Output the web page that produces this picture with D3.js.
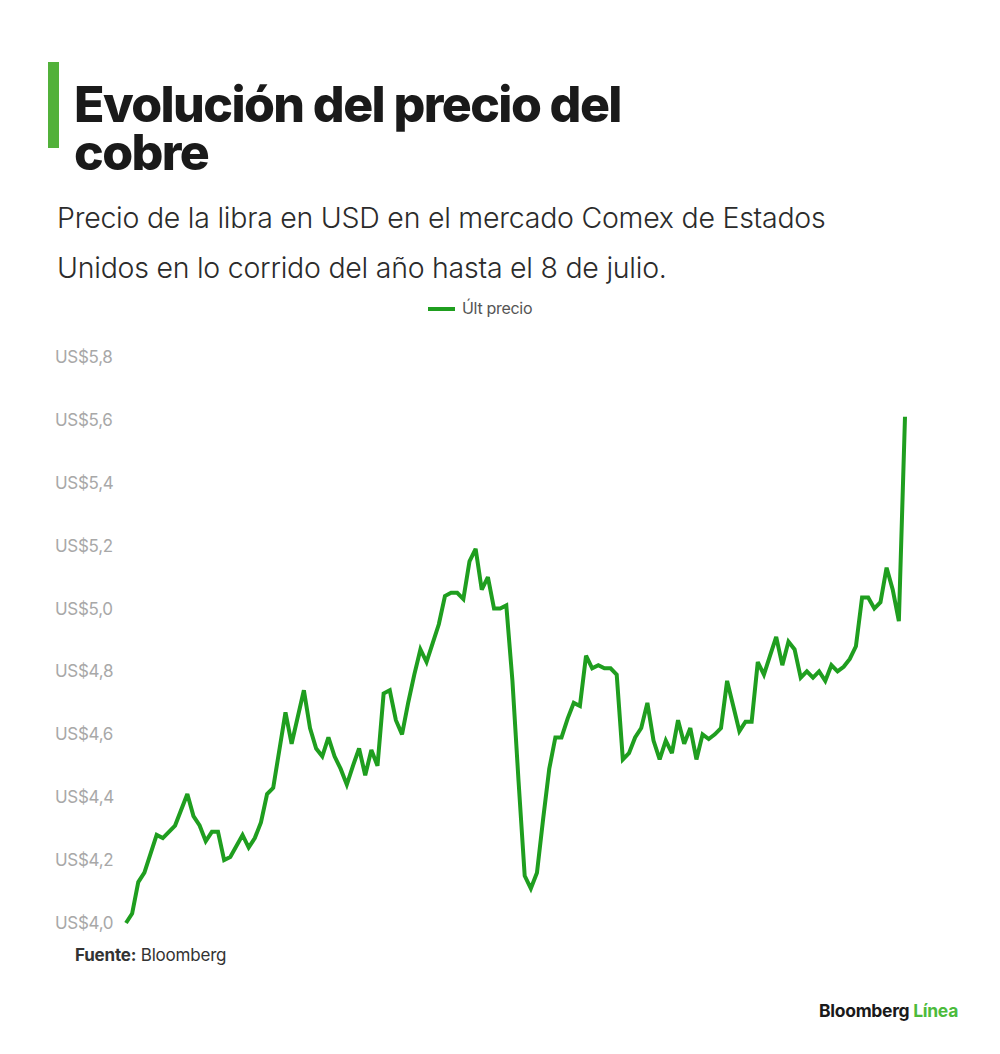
<!DOCTYPE html>
<html>
<head>
<meta charset="utf-8">
<script src="https://cdn.jsdelivr.net/npm/d3@7"></script>
<style>
  body { margin: 0; background: #fff; }
  svg { display: block; }
  .title { font-family: Inter, 'Noto Sans', sans-serif; font-weight: 800; font-size: 50px; fill: #1a1a1a; letter-spacing: -1.6px; }
  .subtitle { font-family: Inter, 'Noto Sans', sans-serif; font-weight: 300; font-size: 28.5px; fill: #2b2b2b; letter-spacing: -0.25px; }
  .legend-label { font-family: Inter, 'Noto Sans', sans-serif; font-size: 16px; fill: #555; letter-spacing: -0.3px; }
  .y.axis text { font-family: Inter, 'Noto Sans', sans-serif; font-size: 17px; fill: #a8a8a8; letter-spacing: -0.3px; }
  .source { font-family: Inter, 'Noto Sans', sans-serif; font-size: 17px; fill: #333; letter-spacing: -0.2px; }
  .brand { font-family: Inter, 'Noto Sans', sans-serif; font-weight: 700; font-size: 17.5px; fill: #1a1a1a; letter-spacing: -0.3px; }
</style>
</head>
<body>
<svg width="1000" height="1054"></svg>
<script>
// trading day index (0 = 2 de enero) and last price, USD per pound
var days = [0, 1, 2, 3, 5, 6, 7, 8, 10, 11, 12, 13, 14, 15, 16, 17, 19, 20, 21, 22,
  23, 24, 26, 27, 29, 30, 31, 32, 33, 34, 35, 36, 37, 38, 39, 40, 41, 42, 43, 44,
  45, 46, 47, 48, 49, 50, 51, 52, 53, 54, 55, 56, 57, 58, 59, 60, 61, 62, 63, 64,
  65, 66, 67, 68, 69, 70, 71, 72, 73, 74, 75, 76, 77, 78, 79, 80, 81, 82, 83, 84,
  85, 86, 87, 88, 89, 90, 91, 92, 93, 94, 95, 96, 97, 98, 99, 100, 101, 102, 103, 104,
  105, 106, 107, 108, 109, 110, 111, 112, 113, 114, 115, 116, 117, 118, 119, 120, 121, 122, 123, 124,
  125, 126, 127];
var prices = [4.00, 4.03, 4.13, 4.16, 4.28, 4.27, 4.29, 4.31, 4.41, 4.34, 4.31, 4.26, 4.29, 4.29, 4.20, 4.21, 4.28, 4.24, 4.27, 4.32,
  4.41, 4.43, 4.67, 4.57, 4.74, 4.62, 4.555, 4.53, 4.59, 4.53, 4.49, 4.44, 4.50, 4.555, 4.47, 4.55, 4.50, 4.73, 4.74, 4.645,
  4.60, 4.70, 4.79, 4.87, 4.83, 4.89, 4.95, 5.04, 5.05, 5.05, 5.03, 5.15, 5.19, 5.06, 5.10, 5.00, 5.00, 5.01, 4.77, 4.45,
  4.15, 4.11, 4.16, 4.33, 4.49, 4.59, 4.59, 4.65, 4.70, 4.69, 4.85, 4.81, 4.82, 4.81, 4.81, 4.79, 4.52, 4.54, 4.59, 4.62,
  4.70, 4.58, 4.52, 4.58, 4.54, 4.645, 4.57, 4.62, 4.52, 4.60, 4.585, 4.60, 4.62, 4.77, 4.69, 4.61, 4.64, 4.64, 4.83, 4.79,
  4.85, 4.91, 4.82, 4.895, 4.87, 4.78, 4.80, 4.78, 4.80, 4.77, 4.82, 4.80, 4.815, 4.84, 4.88, 5.035, 5.035, 5.00, 5.02, 5.13,
  5.06, 4.96, 5.61];
var yTicks = [4.0, 4.2, 4.4, 4.6, 4.8, 5.0, 5.2, 5.4, 5.6, 5.8];

var titleLines = ['Evolución del precio del', 'cobre'];
var subtitleLines = ['Precio de la libra en USD en el mercado Comex de Estados', 'Unidos en lo corrido del año hasta el 8 de julio.'];
var seriesName = 'Últ precio';

var green = '#1f9e1f';
var accent = '#52b13a';

var svg = d3.select('svg');

// header
svg.append('rect')
    .attr('x', 48).attr('y', 62)
    .attr('width', 11).attr('height', 86)
    .attr('fill', accent);

// two-line title kept in one text element
svg.append('text')
    .attr('class', 'title')
    .selectAll('tspan')
    .data(titleLines)
    .enter()
    .append('tspan')
    .attr('x', 74)
    .attr('y', function(d, i) { return 122 + i * 48; })
    .text(function(d) { return d; });

svg.append('text')
    .attr('class', 'subtitle')
    .selectAll('tspan')
    .data(subtitleLines)
    .enter()
    .append('tspan')
    .attr('x', 57)
    .attr('y', function(d, i) { return 228 + i * 50; })
    .text(function(d) { return d; });

// legend
svg.append('line')
    .attr('x1', 428).attr('x2', 455)
    .attr('y1', 309).attr('y2', 309)
    .attr('stroke', green).attr('stroke-width', 4);
svg.append('text')
    .attr('class', 'legend-label')
    .attr('x', 462).attr('y', 314)
    .text(seriesName);

// scales
var xScale = d3.scaleLinear()
    .domain([0, 127])
    .range([126, 905]);

var yScale = d3.scaleLinear()
    .domain([4.0, 5.8])
    .range([923, 357]);

var fmt = function(d) { return 'US$' + d.toFixed(1).replace('.', ','); };

var yAxis = d3.axisLeft(yScale)
    .tickValues(yTicks)
    .tickFormat(fmt)
    .tickSize(0)
    .tickPadding(0);

var yG = svg.append('g')
    .attr('class', 'y axis')
    .attr('transform', 'translate(55,0)')
    .call(yAxis);
yG.select('.domain').remove();
yG.selectAll('text').attr('text-anchor', 'start');

// price line
var line = d3.line()
    .x(function(d) { return xScale(d[0]); })
    .y(function(d) { return yScale(d[1]); });

svg.append('path')
    .datum(d3.zip(days, prices))
    .attr('d', line)
    .attr('fill', 'none')
    .attr('stroke', green)
    .attr('stroke-width', 4)
    .attr('stroke-linejoin', 'miter')
    .attr('stroke-miterlimit', 3);

// footer
var src = svg.append('text')
    .attr('class', 'source')
    .attr('x', 75).attr('y', 961);
src.append('tspan').attr('font-weight', 700).text('Fuente:');
src.append('tspan').text(' Bloomberg');

var brand = svg.append('text')
    .attr('class', 'brand')
    .attr('x', 958).attr('y', 1017)
    .attr('text-anchor', 'end');
brand.append('tspan').text('Bloomberg ');
brand.append('tspan').attr('fill', '#4cbb3c').text('Línea');
</script>
</body>
</html>
